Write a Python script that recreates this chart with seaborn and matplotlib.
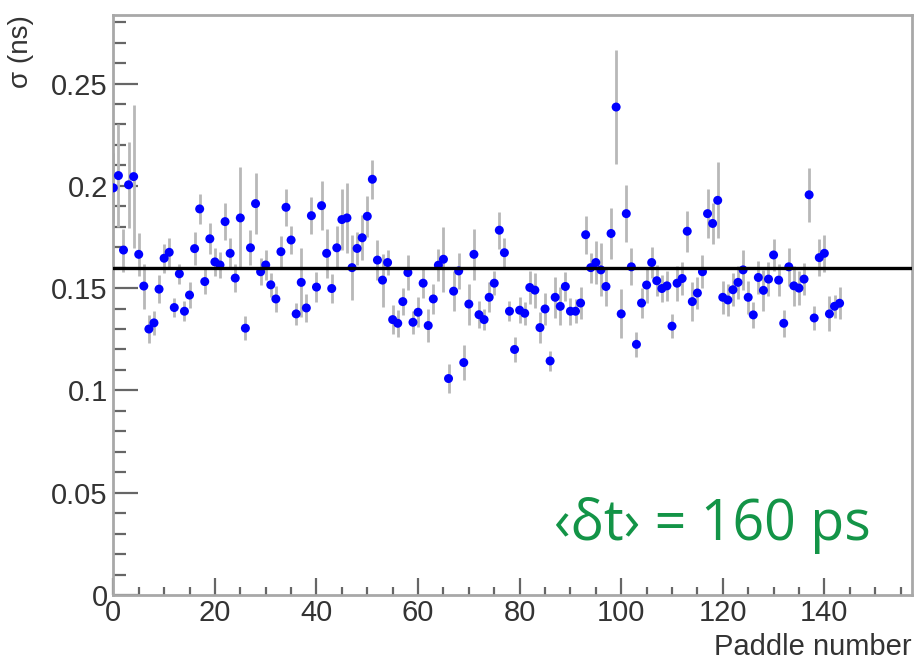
import numpy as np
import pandas as pd
import matplotlib
matplotlib.use("Agg")
import matplotlib.pyplot as plt
import seaborn as sns
from matplotlib.ticker import MultipleLocator, FuncFormatter

# ---- data ----
paddle = list(range(144))
sigma = [0.199, 0.205, 0.1686, 0.2005, 0.2045, 0.1665, 0.151, 0.130, 0.133, 0.1495,
         0.1646, 0.1675, 0.1405, 0.157, 0.1387, 0.1466, 0.1693, 0.1887, 0.1532, 0.1741,
         0.1628, 0.1613, 0.1825, 0.167, 0.1549, 0.1843, 0.1304, 0.1697, 0.1913, 0.158,
         0.1613, 0.1516, 0.1447, 0.1678, 0.1895, 0.1735, 0.1374, 0.1528, 0.1403, 0.1854,
         0.1505, 0.1903, 0.167, 0.1498, 0.1697, 0.1835, 0.1843, 0.160, 0.1694, 0.1746,
         0.1851, 0.2032, 0.1637, 0.1539, 0.1625, 0.1346, 0.1328, 0.1434, 0.1576, 0.1333,
         0.1382, 0.1524, 0.1317, 0.1447, 0.1612, 0.1641, 0.1058, 0.1485, 0.1584, 0.1136,
         0.1422, 0.1665, 0.137, 0.1346, 0.1455, 0.1524, 0.1783, 0.1673, 0.1387, 0.120,
         0.1392, 0.1377, 0.1503, 0.149, 0.1307, 0.1398, 0.1144, 0.1455, 0.1411, 0.1508,
         0.1387, 0.1387, 0.1427, 0.1761, 0.160, 0.1625, 0.1589, 0.1508, 0.1767, 0.2385,
         0.1374, 0.1864, 0.1604, 0.1225, 0.1427, 0.1515, 0.1625, 0.1536, 0.1498, 0.1511,
         0.1314, 0.1524, 0.1547, 0.1778, 0.1434, 0.1476, 0.158, 0.1864, 0.1816, 0.1929,
         0.1455, 0.1442, 0.1492, 0.1528, 0.1589, 0.1455, 0.1369, 0.1552, 0.1489, 0.1544,
         0.1662, 0.1539, 0.1328, 0.1604, 0.1511, 0.150, 0.1544, 0.1956, 0.1354, 0.1649,
         0.167, 0.1374, 0.1411, 0.1426]
sigma_err = [0.017, 0.025, 0.0105, 0.021, 0.035, 0.0105, 0.011, 0.007, 0.006, 0.007,
             0.007, 0.007, 0.0045, 0.005, 0.005, 0.0065, 0.008, 0.0075, 0.006, 0.0075,
             0.007, 0.0065, 0.009, 0.0075, 0.007, 0.025, 0.006, 0.0085, 0.015, 0.0065,
             0.0075, 0.006, 0.0065, 0.0075, 0.009, 0.007, 0.0055, 0.017, 0.007, 0.009,
             0.0075, 0.012, 0.012, 0.007, 0.0105, 0.015, 0.017, 0.016, 0.008, 0.011,
             0.010, 0.0095, 0.0097, 0.013, 0.006, 0.007, 0.0065, 0.0065, 0.0085, 0.0055,
             0.0073, 0.007, 0.008, 0.0073, 0.0077, 0.016, 0.0073, 0.0097, 0.009, 0.0085,
             0.010, 0.0125, 0.0065, 0.005, 0.0073, 0.006, 0.009, 0.0073, 0.005, 0.006,
             0.0065, 0.0057, 0.008, 0.0085, 0.0077, 0.008, 0.005, 0.010, 0.0093, 0.0069,
             0.0065, 0.006, 0.0077, 0.0093, 0.0073, 0.0105, 0.013, 0.0097, 0.0125, 0.028,
             0.012, 0.014, 0.009, 0.006, 0.0073, 0.009, 0.0077, 0.0077, 0.0065, 0.0073,
             0.0057, 0.0085, 0.008, 0.010, 0.0097, 0.0077, 0.008, 0.012, 0.010, 0.0186,
             0.008, 0.008, 0.008, 0.008, 0.0097, 0.008, 0.0065, 0.008, 0.010, 0.0085,
             0.0077, 0.0077, 0.0065, 0.0093, 0.0097, 0.0085, 0.0077, 0.0133, 0.006, 0.0089,
             0.0089, 0.0085, 0.0057, 0.0077]
mean_sigma = 0.160
x_ticks = [0, 20, 40, 60, 80, 100, 120, 140]
y_ticks = [0, 0.05, 0.1, 0.15, 0.2, 0.25]
annotation = "\u2039\u03b4t\u203a = 160 ps"

df = pd.DataFrame({"paddle": paddle, "sigma": sigma, "err": sigma_err})

sns.set_theme(style="white")
plt.rcParams["font.family"] = ["Liberation Sans", "DejaVu Sans"]

fig = plt.figure(figsize=(9.14, 6.6), dpi=100)
fig.patch.set_facecolor("white")
ax = fig.add_axes([0.124, 0.0985, 0.8735, 0.8785])
ax.set_facecolor("white")

ax.errorbar(df["paddle"], df["sigma"], yerr=df["err"], fmt="none",
            ecolor="#b8b8b8", elinewidth=2.0, capsize=0, zorder=2)
sns.scatterplot(data=df, x="paddle", y="sigma", ax=ax, color="#0000ff",
                marker="o", s=42, edgecolor="none", zorder=3)
ax.axhline(mean_sigma, color="black", lw=2.4, zorder=4)

ax.set_xlim(0, 157.2)
ax.set_ylim(0, 0.2834)
ax.set_xticks(x_ticks)
ax.set_yticks(y_ticks)
ax.xaxis.set_minor_locator(MultipleLocator(5))
ax.yaxis.set_minor_locator(MultipleLocator(0.01))
ax.yaxis.set_major_formatter(FuncFormatter(lambda v, p: "%g" % round(v, 3)))

ax.tick_params(axis="both", which="both", direction="in", colors="#666666",
               labelcolor="#333333", labelsize=21, width=1.6,
               bottom=True, left=True, top=False, right=False)
ax.tick_params(axis="y", which="major", length=18, pad=4)
ax.tick_params(axis="y", which="minor", length=9)
ax.tick_params(axis="x", which="major", length=12, pad=3)
ax.tick_params(axis="x", which="minor", length=6)

for s in ax.spines.values():
    s.set_color("#a8a8a8")
    s.set_linewidth(2.0)
    s.set_visible(True)

ax.set_xlabel("Paddle number", loc="right", fontsize=21, color="#333333", labelpad=4)
ax.set_ylabel("\u03c3 (ns)", loc="top", fontsize=20, color="#333333", labelpad=12)

ax.text(0.552, 0.12, annotation, transform=ax.transAxes, fontsize=40,
        color="#139447", family=["Open Sans", "DejaVu Sans"], ha="left", va="center")

fig.savefig("out.png", dpi=100, facecolor="white")
